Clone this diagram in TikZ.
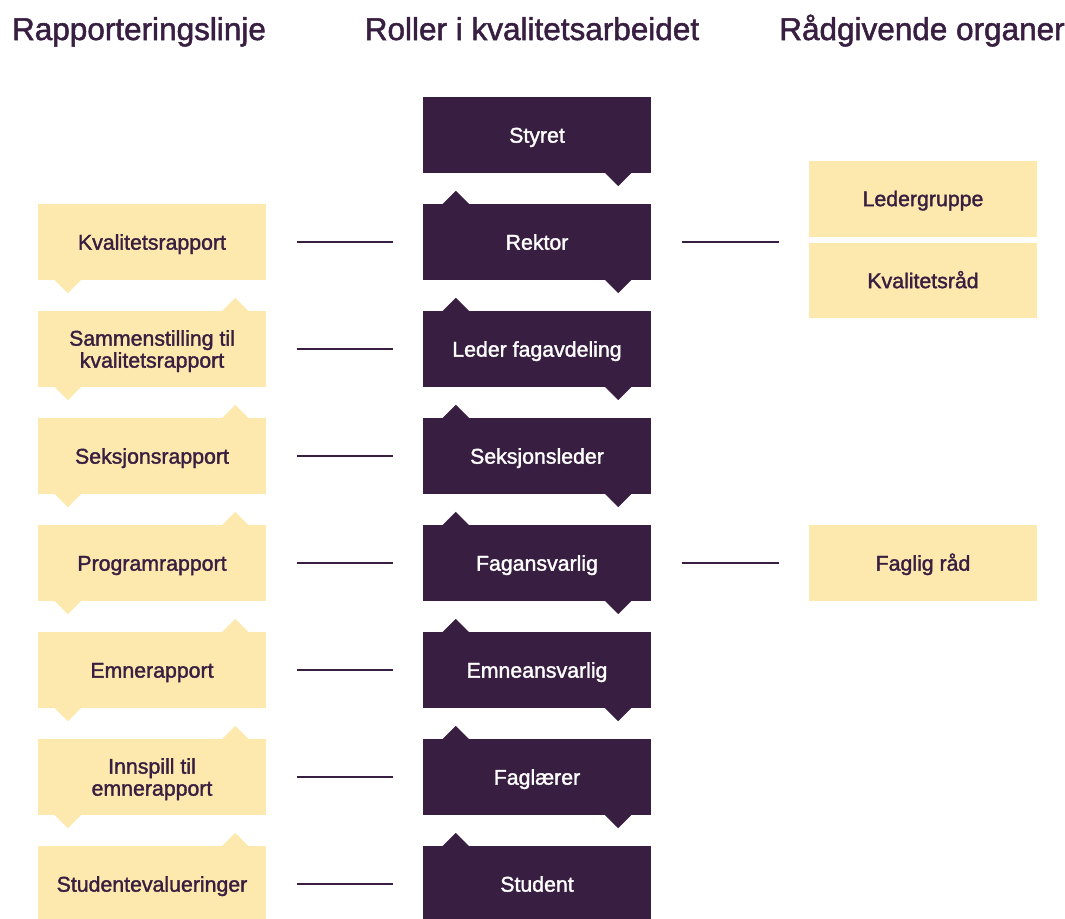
\documentclass[tikz,border=0pt]{standalone}
\usepackage{fontspec}
\setmainfont{Liberation Sans}
\newfontfamily\medf{Liberation Sans}[FakeBold=1.6]
\definecolor{dk}{HTML}{381E40}
\definecolor{yl}{HTML}{FDE9AE}
\newcommand\tridown[2]{\fill[#2] (#1) ++(-14,-1) -- ++(28,0) -- ++(-14,14) -- cycle;}
\newcommand\triup[2]{\fill[#2] (#1) ++(-14,1) -- ++(28,0) -- ++(-14,-14) -- cycle;}
\tikzset{
  role/.style={fill=dk, text=white, minimum width=228pt, minimum height=76pt, inner sep=0pt,
    font=\medf\fontsize{21.3}{22}\selectfont, align=center, text height=15.3pt, text depth=0pt},
  rep/.style={role, fill=yl, text=dk},
  two/.style={text height=37.3pt, text depth=0pt},
  hdr/.style={text=dk, anchor=base, inner sep=0pt, font=\medf\fontsize{31.5}{36}\selectfont},
  conn/.style={draw=dk, line width=2pt, shorten <=31pt, shorten >=30pt}
}
\begin{document}
\begin{tikzpicture}[x=1pt,y=-1pt]
\useasboundingbox (0,0) rectangle (1065,918);
\clip (0,0) rectangle (1065,918);
% headers
\node[hdr] (h1) at (139,40) {Rapporteringslinje};
\node[hdr] (h2) at (532,40) {Roller i kvalitetsarbeidet};
\node[hdr] (h3) at (922,40) {Rådgivende organer};
% roles
\node[role] (r1) at (537,135) {Styret};
\node[role] (r2) at (537,242) {Rektor};
\node[role] (r3) at (537,349) {Leder fagavdeling};
\node[role] (r4) at (537,456) {Seksjonsleder};
\node[role] (r5) at (537,563) {Fagansvarlig};
\node[role] (r6) at (537,670) {Emneansvarlig};
\node[role] (r7) at (537,777) {Faglærer};
\node[role] (r8) at (537,884) {Student};
% reports
\node[rep] (l2) at (152,242) {Kvalitetsrapport};
\node[rep, two] (l3) at (152,349) {Sammenstilling til\\kvalitetsrapport};
\node[rep] (l4) at (152,456) {Seksjonsrapport};
\node[rep] (l5) at (152,563) {Programrapport};
\node[rep] (l6) at (152,670) {Emnerapport};
\node[rep, two] (l7) at (152,777) {Innspill til\\emnerapport};
\node[rep] (l8) at (152,884) {Studentevalueringer};
% advisory
\node[rep] (a1) at (923,198.5) {Ledergruppe};
\node[rep, minimum height=75pt] (a2) at (923,280.5) {Kvalitetsråd};
\node[rep] (a3) at (923,563) {Faglig råd};
% notches on roles
\foreach \n in {r1,r2,r3,r4,r5,r6,r7}{\tridown{[xshift=-33pt]\n.south east}{dk}}
\foreach \n in {r2,r3,r4,r5,r6,r7,r8}{\triup{[xshift=33pt]\n.north west}{dk}}
% notches on reports
\foreach \n in {l2,l3,l4,l5,l6,l7}{\tridown{[xshift=30pt]\n.south west}{yl}}
\foreach \n in {l3,l4,l5,l6,l7,l8}{\triup{[xshift=-31pt]\n.north east}{yl}}
% connectors
\foreach \i in {2,...,8}{\draw[conn] (l\i.east) -- (r\i.west);}
\draw[conn] (r2.east) -- (r2.east -| a1.west);
\draw[conn] (r5.east) -- (a3.west);
\end{tikzpicture}
\end{document}
